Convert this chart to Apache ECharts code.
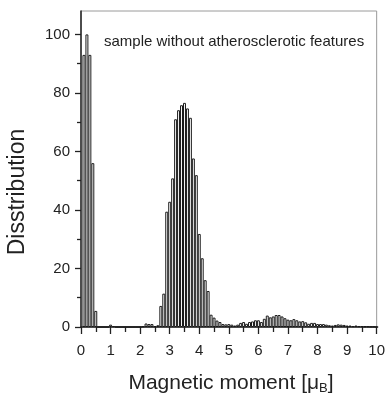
<!DOCTYPE html>
<html>
<head>
<meta charset="utf-8">
<script src="https://cdn.jsdelivr.net/npm/echarts@6/dist/echarts.min.js"></script>
<style>html,body{margin:0;padding:0;background:#fff}#c{width:388px;height:397px}</style>
</head>
<body>
<div id="c"></div>
<script>
// Histogram bins: centres at 0.1, 0.2, ... 10.0 (magnetic moment, μB)
const binStep = 0.1;
const distribution = [
  93, 100, 93, 56, 5.5, 0, 0, 0, 0, 0.8,
  0.3, 0, 0, 0, 0, 0, 0, 0, 0, 0,
  0.2, 1.2, 1.0, 1.0, 0.3, 0.6, 7.2, 11.4, 39.4, 42.8,
  50.8, 71.0, 74.1, 75.8, 76.6, 74.7, 71.5, 57.6, 51.9, 31.8,
  23.5, 16.0, 12.3, 4.2, 3.2, 2.2, 1.7, 1.0, 0.9, 1.0,
  0.8, 0.5, 0.8, 1.4, 1.7, 1.1, 1.7, 1.9, 2.3, 2.3,
  1.7, 2.8, 3.9, 3.3, 3.6, 4.1, 4.1, 3.6, 3.0, 2.5,
  2.3, 2.7, 2.3, 1.9, 2.0, 1.6, 1.1, 1.4, 1.4, 1.0,
  1.0, 1.0, 0.8, 0.6, 0.5, 0.7, 0.9, 0.8, 0.7, 0.5,
  0.5, 0.3, 0.5, 0.3, 0.3, 0.2, 0.2, 0.1, 0.1, 0
];
const binCenters = distribution.map((_, i) => +((i + 1) * binStep).toFixed(1));
const yMajorTicks = [0, 20, 40, 60, 80, 100];
const yMinorTicks = [10, 30, 50, 70, 90];
const annotation = 'sample without atherosclerotic features';
const xTitle = 'Magnetic moment [μ{sub|B}]';
const yTitle = 'Disstribution';

const FONT = '"Liberation Sans", Arial, sans-serif';
const chart = echarts.init(document.getElementById('c'), null, {renderer: 'canvas'});
chart.setOption({
  animation: false,
  backgroundColor: '#fff',
  grid: {left: 81, right: 9, top: 11, bottom: 70, show: true, borderColor: '#9a9a9a', borderWidth: 1},
  xAxis: {
    type: 'value', min: 0, max: 10, interval: 1,
    axisLine: {show: true, onZero: false, lineStyle: {color: '#222', width: 1.5}},
    axisTick: {show: true, length: 7, lineStyle: {color: '#222', width: 1.3}},
    minorTick: {show: true, splitNumber: 2, length: 5, lineStyle: {color: '#222', width: 1.3}},
    axisLabel: {margin: 16, fontSize: 15, color: '#222', fontFamily: FONT},
    splitLine: {show: false}
  },
  yAxis: [{
    type: 'value', min: 0, max: 108,
    axisLine: {show: true, lineStyle: {color: '#222', width: 1.5}},
    axisTick: {show: true, length: 6, customValues: yMajorTicks, lineStyle: {color: '#222', width: 1.3}},
    axisLabel: {margin: 11, fontSize: 15, color: '#222', fontFamily: FONT, customValues: yMajorTicks},
    splitLine: {show: false}
  }, {
    type: 'value', min: 0, max: 108, position: 'left',
    axisLine: {show: false},
    axisTick: {show: true, length: 4, customValues: yMinorTicks, lineStyle: {color: '#222', width: 1.3}},
    axisLabel: {show: false},
    splitLine: {show: false}
  }],
  series: [{
    type: 'bar',
    yAxisIndex: 0,
    data: binCenters.map((x, i) => [x, distribution[i]]),
    barWidth: '100%',
    itemStyle: {color: '#ffffff', borderColor: '#1a1a1a', borderWidth: 1},
    z: 1
  }],
  graphic: [
    {type: 'text', left: 104, top: 34, style: {text: annotation, fill: '#222', font: '15px ' + FONT}},
    {type: 'text', x: 231, y: 383, style: {text: xTitle, fill: '#222', align: 'center', verticalAlign: 'middle',
      font: '21px ' + FONT, rich: {sub: {fontSize: 13, fontFamily: FONT, verticalAlign: 'bottom', padding: [10, 0, 0, 0]}}}},
    {type: 'text', x: 18, y: 192, rotation: Math.PI / 2, style: {text: yTitle, fill: '#222', align: 'center', verticalAlign: 'middle', font: '23px ' + FONT}}
  ]
});
</script>
</body>
</html>
